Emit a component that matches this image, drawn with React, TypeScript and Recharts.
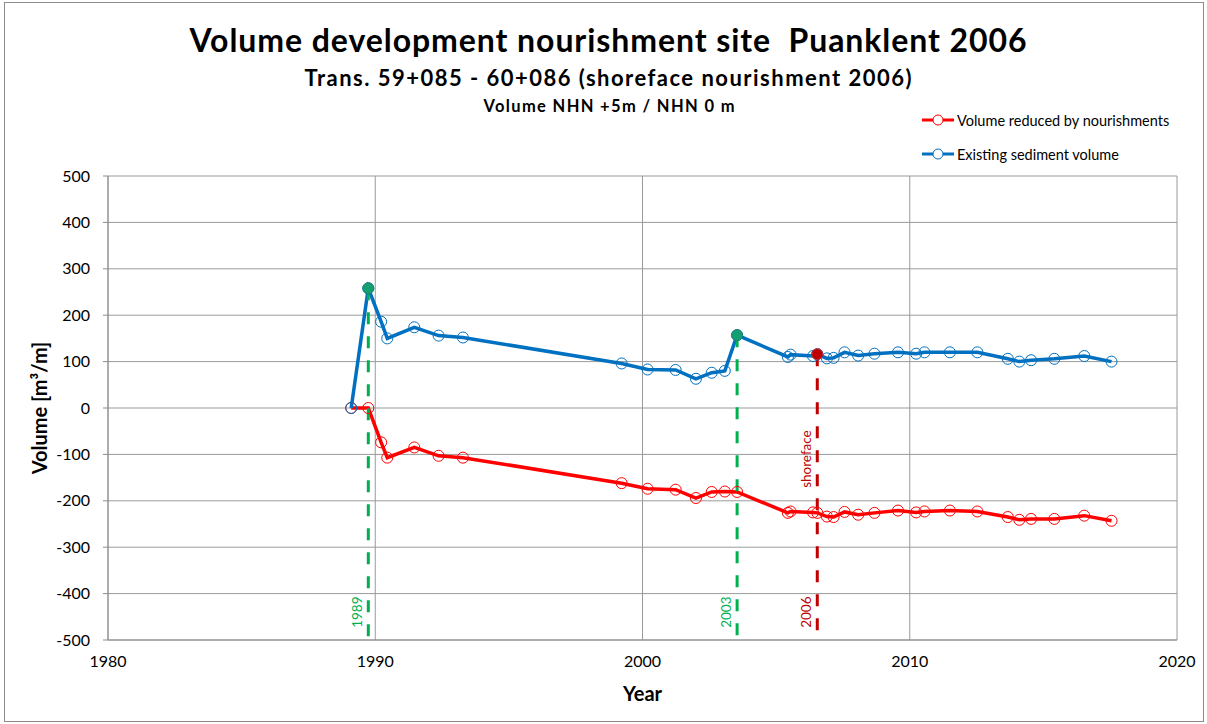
import { CartesianGrid, LabelList, Legend, Line, LineChart, XAxis, YAxis } from "recharts";

// Volume development, nourishment site Puanklent 2006 (Trans. 59+085 - 60+086).

const years = [
  1989.1, 1989.74, 1990.22, 1990.45, 1991.46, 1992.37, 1993.28, 1999.22, 2000.19, 2001.24,
  2002.0, 2002.59, 2003.08, 2003.54, 2005.44, 2005.54, 2006.38, 2006.54, 2006.9, 2007.15,
  2007.56, 2008.07, 2008.68, 2009.56, 2010.24, 2010.55, 2011.5, 2012.53, 2013.67, 2014.1,
  2014.54, 2015.41, 2016.53, 2017.55,
];
const reduced = [
  0, 0, -74, -107, -85, -103, -107, -162, -174, -176,
  -194, -181, -180, -181, -226, -223, -225, -226, -234, -235,
  -224, -230, -226, -221, -225, -223, -221, -223, -235, -241,
  -239, -239, -232, -243,
];
const existing = [
  0, 258, 186, 150, 174, 156, 152, 96, 83, 82,
  63, 76, 80, 157, 110, 115, 112, 116, 107, 108,
  120, 113, 117, 120, 117, 120, 120, 120, 106, 100,
  103, 106, 112, 100,
];

// nourishment markers (year, top of dashed line, label)
const nourishYears = [1989.74, 2003.54, 2006.54];
const nourishTops = [258, 157, 116];
const nourishLabels = ["1989", "2003", "2006"];
const nourishColors = ["#00B050", "#00B050", "#C00000"];
const nourishDots = ["#12a070", "#12a070", "#C00000"];
const labelLevel = -440;
const shorefaceLevel = -110;

const xTicks = [1980, 1990, 2000, 2010, 2020];
const yTicks = [-500, -400, -300, -200, -100, 0, 100, 200, 300, 400, 500];

const BLUE = "#0070C0";
const RED = "#FF0000";
const FONT = "Lato, 'Noto Sans', sans-serif";

const rows = years.map((x, i) => ({ x, reduced: reduced[i], existing: existing[i] }));

const markerLines = nourishYears.map((x, i) => {
  const pts: { x: number; v: number; note?: string }[] = [{ x, v: nourishTops[i] }];
  if (nourishLabels[i] === "2006") pts.push({ x, v: shorefaceLevel, note: "shoreface" });
  pts.push({ x, v: labelLevel, note: nourishLabels[i] });
  pts.push({ x, v: -500 });
  return pts;
});

function LegendBox() {
  const items = [
    { name: "Volume reduced by nourishments", color: RED },
    { name: "Existing sediment volume", color: BLUE },
  ];
  return (
    <div style={{ fontFamily: FONT, fontSize: 14.5, color: "#000" }}>
      {items.map((it) => (
        <div key={it.name} style={{ display: "flex", alignItems: "center", height: 34 }}>
          <svg width={34} height={14} style={{ marginRight: 2 }}>
            <line x1={1} y1={7} x2={33} y2={7} stroke={it.color} strokeWidth={3} />
            <circle cx={17} cy={7} r={5} fill="#fff" stroke={it.color} strokeWidth={1} />
          </svg>
          <span>{it.name}</span>
        </div>
      ))}
    </div>
  );
}

export default function App() {
  return (
    <div
      style={{
        position: "absolute",
        left: 0,
        top: 0,
        width: 1207,
        height: 724,
        background: "#fff",
        fontFamily: FONT,
      }}
    >
      <LineChart
        width={1207}
        height={724}
        data={rows}
        margin={{ top: 176, right: 30, left: 0, bottom: 0 }}
      >
        <CartesianGrid stroke="#9a9a9a" strokeWidth={1} />
        <XAxis
          type="number"
          dataKey="x"
          domain={[1980, 2020]}
          ticks={xTicks}
          interval={0}
          height={84}
          tickLine={false}
          tickSize={6}
          tickMargin={10}
          axisLine={{ stroke: "#8c8c8c" }}
          tick={{ fontSize: 16, fill: "#000", fontFamily: FONT }}
          label={{
            value: "Year",
            position: "insideBottom",
            offset: 23,
            style: { fontSize: 20, fontWeight: 700, fill: "#000", fontFamily: FONT },
          }}
        />
        <YAxis
          type="number"
          domain={[-500, 500]}
          ticks={yTicks}
          interval={0}
          width={108}
          tickSize={5}
          tickMargin={13}
          tickLine={{ stroke: "#8c8c8c" }}
          axisLine={{ stroke: "#8c8c8c" }}
          tick={{ fontSize: 16, fill: "#000", fontFamily: FONT }}
          label={{
            value: "Volume [m³/m]",
            angle: -90,
            position: "insideLeft",
            offset: 40,
            style: { textAnchor: "middle", fontSize: 20, fontWeight: 700, fill: "#000", fontFamily: FONT },
          }}
        />
        <Legend
          layout="vertical"
          align="center"
          verticalAlign="middle"
          wrapperStyle={{ top: 103, left: 921, width: 285 }}
          content={() => <LegendBox />}
        />
        <Line
          dataKey="reduced"
          name="Volume reduced by nourishments"
          stroke={RED}
          strokeWidth={3.5}
          dot={{ r: 5.5, fill: "none", stroke: RED, strokeWidth: 1 }}
          isAnimationActive={false}
        />
        <Line
          dataKey="existing"
          name="Existing sediment volume"
          stroke={BLUE}
          strokeWidth={3.5}
          dot={{ r: 5.5, fill: "none", stroke: BLUE, strokeWidth: 1 }}
          isAnimationActive={false}
        />
        {markerLines.map((pts, i) => (
          <Line
            key={nourishLabels[i]}
            data={pts}
            dataKey="v"
            legendType="none"
            stroke={nourishColors[i]}
            strokeWidth={3}
            strokeDasharray="12 12"
            dot={(p: any) =>
              p.index === 0 ? (
                <circle
                  key={`d${i}`}
                  cx={p.cx}
                  cy={p.cy}
                  r={5.5}
                  fill={nourishDots[i]}
                  stroke={i === 2 ? "#b03040" : "#1c7f7a"}
                  strokeWidth={1}
                />
              ) : (
                <g key={`d${i}-${p.index}`} />
              )
            }
            isAnimationActive={false}
          >
            <LabelList
              dataKey="note"
              content={(p: any) =>
                p.value ? (
                  <text
                    x={p.x}
                    y={p.y}
                    transform={`translate(-11,0) rotate(-90 ${p.x} ${p.y})`}
                    textAnchor="middle"
                    dy="0.35em"
                    fontSize={13.5}
                    fontFamily={FONT}
                    fill={nourishColors[i]}
                  >
                    {p.value}
                  </text>
                ) : null
              }
            />
          </Line>
        ))}
      </LineChart>
      <svg
        width={1207}
        height={724}
        style={{ position: "absolute", left: 0, top: 0, pointerEvents: "none" }}
      >
        <rect x={4.5} y={2.5} width={1199} height={719} fill="none" stroke="#8c8c8c" />
        <text
          x={608}
          y={52}
          textAnchor="middle"
          fontSize={32}
          fontWeight={700}
          fontFamily={FONT}
          textLength={837}
          style={{ whiteSpace: "pre" }}
        >
          {"Volume development nourishment site  Puanklent 2006"}
        </text>
        <text x={608} y={86} textAnchor="middle" fontSize={22} fontWeight={700} fontFamily={FONT} textLength={607}>
          Trans. 59+085 - 60+086 (shoreface nourishment 2006)
        </text>
        <text x={609} y={112} textAnchor="middle" fontSize={16.5} fontWeight={700} fontFamily={FONT} textLength={251}>
          Volume NHN +5m / NHN 0 m
        </text>
      </svg>
    </div>
  );
}
